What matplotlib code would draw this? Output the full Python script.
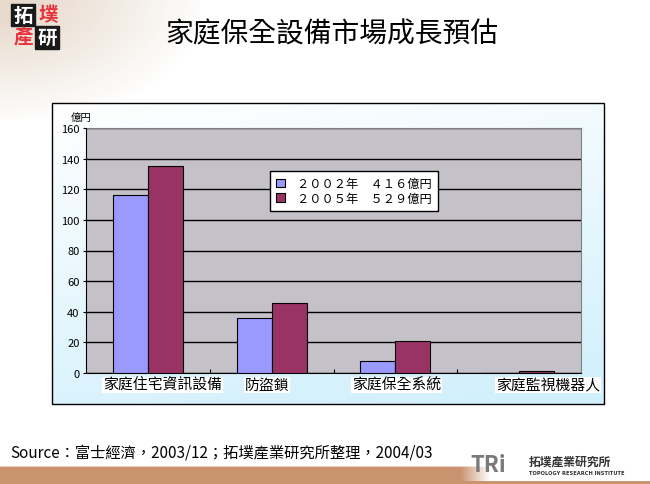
import numpy as np
import matplotlib.pyplot as plt
from matplotlib.patches import Rectangle

plt.rcParams['font.family'] = ['Noto Sans CJK TC', 'DejaVu Sans']

# ---------------- data ----------------
categories = ['家庭住宅資訊設備', '防盜鎖', '家庭保全系統', '家庭監視機器人']
v2002 = [116, 36, 8, 0]
v2005 = [135, 45.5, 21, 1]
series_labels = ['２００２年　４１６億円', '２００５年　５２９億円']
yticks = [0, 20, 40, 60, 80, 100, 120, 140, 160]

title = '家庭保全設備市場成長預估'
source = 'Source：富士經濟，2003/12；拓墣產業研究所整理，2004/03'

W, H = 650, 485
fig = plt.figure(figsize=(W / 100, H / 100), dpi=100)
fig.patch.set_facecolor('white')

# background layer in pixel coords
bg = fig.add_axes([0, 0, 1, 1])
bg.set_xlim(0, W)
bg.set_ylim(H, 0)
bg.axis('off')

# beige map corner, fading out
yy, xx = np.mgrid[0:120, 0:200]
alpha = np.clip(1.2 - np.sqrt((xx / 175.0) ** 2 + (yy / 105.0) ** 2), 0, 1)
img = np.zeros((120, 200, 4))
img[..., 0], img[..., 1], img[..., 2] = 0.91, 0.86, 0.81
img[..., 3] = alpha
bg.imshow(img, extent=[0, 200, 120, 0], aspect='auto', zorder=0)

# logo chars
bg.add_patch(Rectangle((11, 5), 24, 22, color='#1a1a1a', zorder=1))
bg.add_patch(Rectangle((35, 27), 24, 23, color='#1a1a1a', zorder=1))
bg.text(23, 16, '拓', color='white', fontsize=14, fontweight='bold', ha='center', va='center')
bg.text(48, 16, '墣', color='#e8303a', fontsize=14, fontweight='bold', ha='center', va='center')
bg.text(23, 38, '產', color='#e8303a', fontsize=14, fontweight='bold', ha='center', va='center')
bg.text(47, 38, '研', color='white', fontsize=14, fontweight='bold', ha='center', va='center')

# title
bg.text(332, 34, title, fontsize=20, ha='center', va='center', color='black')

# chart box with light blue gradient
yy, xx = np.mgrid[0:100, 0:200]
t = np.clip(0.25 * xx / 200 + 0.8 * yy / 100, 0, 1)
box = np.zeros((100, 200, 3))
box[..., 0] = 1 - t * (1 - 0.82)
box[..., 1] = 1 - t * (1 - 0.94)
box[..., 2] = 1 - t * (1 - 0.99)
bg.imshow(box, extent=[52, 604, 405, 104], aspect='auto', zorder=1)
bg.add_patch(Rectangle((52, 104), 552, 301, fill=False, edgecolor='black', lw=1, zorder=2))

bg.text(71, 118, '億円', fontsize=7.5, ha='left', va='center', zorder=3)

# category labels (white boxes)
label_x = [103, 245, 352, 496]
for lx, lab in zip(label_x, categories):
    bg.text(lx, 386, lab, fontsize=10.7, ha='left', va='center', zorder=3,
            bbox=dict(facecolor='white', edgecolor='none', pad=0.5))

# bottom band
yy, xx = np.mgrid[0:18, 0:650]
band = np.zeros((18, 650, 4))
band[..., 0], band[..., 1], band[..., 2] = 0.79, 0.58, 0.44
band[..., 3] = np.clip((490 - xx) / 30.0, 0, 1)
band[0, :, :3] = [0.93, 0.82, 0.74]
band[-3:, :, 3] = 1
bg.imshow(band, extent=[0, 650, 485, 467], aspect='auto', zorder=1)

bg.text(10, 453, source, fontsize=11, ha='left', va='center', color='black', zorder=3)

# TRI logo
bg.text(470, 466, 'TRi', fontsize=16, fontweight='bold', color='#7a7a7a', ha='left', va='center', zorder=3)
bg.text(529, 462, '拓墣產業研究所', fontsize=8.5, fontweight='bold', color='#333333', ha='left', va='center', zorder=3)
bg.text(529, 474, 'TOPOLOGY RESEARCH INSTITUTE', fontsize=3.7, color='#333333', ha='left', va='center',
        family='DejaVu Sans', fontweight='bold', zorder=3)

# ---------------- chart ----------------
left, right, top, bottom = 86.5, 580.5, 129, 374
ax = fig.add_axes([left / W, (H - bottom) / H, (right - left) / W, (bottom - top) / H])
ax.set_facecolor('#c4c1c8')

x = np.arange(len(categories))
w = 0.285
ax.bar(x - w / 2, v2002, w, color='#9999ff', edgecolor='black', linewidth=0.8, label=series_labels[0], zorder=3)
ax.bar(x + w / 2, v2005, w, color='#993366', edgecolor='black', linewidth=0.8, label=series_labels[1], zorder=3)

ax.set_xlim(-0.5, len(categories) - 0.5)
ax.set_ylim(0, 160)
ax.set_yticks(yticks)
ax.set_yticklabels([str(v) for v in yticks], fontsize=8)
ax.yaxis.grid(True, color='black', linewidth=1)
ax.set_axisbelow(True)
ax.set_xticks([0.5, 1.5, 2.5])
ax.set_xticklabels([])
ax.tick_params(axis='x', direction='in', length=3, color='black')
ax.tick_params(axis='y', direction='out', length=2, pad=3)

ax.spines['top'].set_color('#808080')
ax.spines['right'].set_color('#808080')
ax.spines['left'].set_color('black')
ax.spines['bottom'].set_color('black')

leg = ax.legend(loc='upper left', bbox_to_anchor=((270 - left) / (right - left), (bottom - 172) / (bottom - top)),
                borderaxespad=0, fontsize=8.8, frameon=True, fancybox=False, handlelength=0.7,
                handleheight=0.7, handletextpad=1.0, borderpad=0.5, labelspacing=0.15)
leg.get_frame().set_edgecolor('black')
leg.get_frame().set_linewidth(1)
leg.get_frame().set_facecolor('white')
leg.get_frame().set_alpha(1)

fig.savefig('out.png', dpi=100, facecolor='white')
